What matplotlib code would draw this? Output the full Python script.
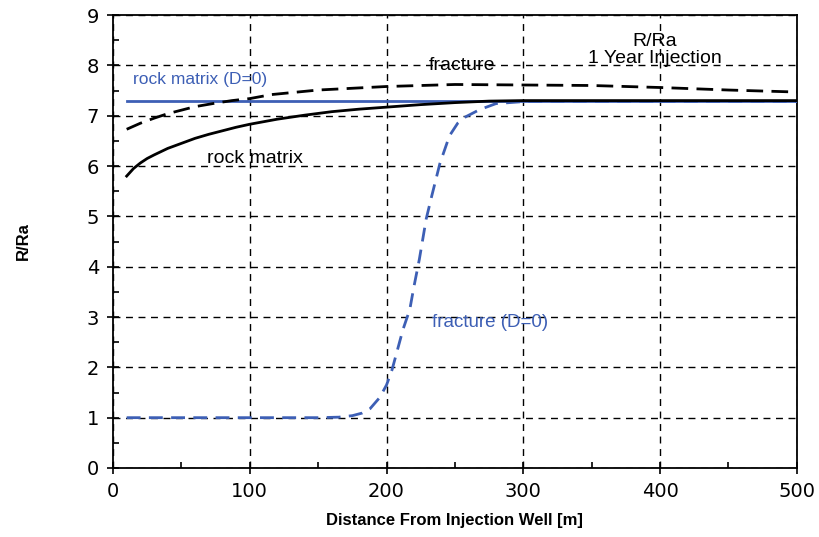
import matplotlib
matplotlib.use("Agg")
import matplotlib.pyplot as plt
from matplotlib.ticker import MultipleLocator

# Data
rock_x = [10, 15, 20, 25, 30, 40, 50, 60, 70, 80, 90, 100, 120, 140, 160, 180, 200, 225, 250, 275, 300, 350, 400, 450, 500]
rock_y = [5.80, 5.95, 6.06, 6.15, 6.22, 6.35, 6.45, 6.55, 6.63, 6.70, 6.77, 6.83, 6.93, 7.01, 7.08, 7.13, 7.17, 7.22, 7.26, 7.29, 7.30, 7.30, 7.30, 7.30, 7.30]

frac_x = [10, 20, 30, 40, 50, 60, 75, 87, 100, 116, 150, 200, 250, 300, 350, 400, 450, 500]
frac_y = [6.73, 6.85, 6.95, 7.04, 7.11, 7.18, 7.25, 7.30, 7.34, 7.42, 7.51, 7.58, 7.62, 7.61, 7.60, 7.56, 7.51, 7.47]

rock0_x = [10, 500]
rock0_y = [7.30, 7.30]

frac0_x = [10, 50, 100, 150, 165, 175, 182, 188, 195, 200, 204, 208, 212, 217, 220, 224, 229, 233, 239, 246, 252, 258, 268, 280, 300, 400, 500]
frac0_y = [1.00, 1.00, 1.00, 1.00, 1.01, 1.04, 1.09, 1.18, 1.40, 1.65, 1.95, 2.35, 2.75, 3.15, 3.60, 4.15, 4.95, 5.40, 6.05, 6.60, 6.85, 6.98, 7.12, 7.24, 7.28, 7.28, 7.28]

x_ticks = [0, 100, 200, 300, 400, 500]
y_ticks = [0, 1, 2, 3, 4, 5, 6, 7, 8, 9]

BLUE = "#3d5fb5"
FONT = ["Liberation Sans", "DejaVu Sans"]

fig = plt.figure(figsize=(8.2, 5.37), dpi=100)
ax = fig.add_axes([0.1378, 0.1285, 0.834, 0.8435])

ax.set_xlim(0, 500)
ax.set_ylim(0, 9)
ax.set_xticks(x_ticks)
ax.set_yticks(y_ticks)
ax.xaxis.set_minor_locator(MultipleLocator(50))
ax.yaxis.set_minor_locator(MultipleLocator(0.5))
ax.tick_params(which="major", direction="inout", length=8, width=1.2, labelsize=14, pad=6)
ax.tick_params(which="minor", direction="in", length=4, width=1.2)
ax.tick_params(which="both", top=False, right=False)
for s in ax.spines.values():
    s.set_linewidth(1.3)

ax.grid(True, which="major", color="black", linestyle=(0, (5, 4)), linewidth=1.0)
ax.set_axisbelow(True)

ax.plot(rock0_x, rock0_y, color=BLUE, linewidth=2.0, zorder=3)
ax.plot(frac0_x, frac0_y, color=BLUE, linewidth=2.0, linestyle=(0, (5, 3)), zorder=3)
ax.plot(rock_x, rock_y, color="black", linewidth=2.0, zorder=4)
ax.plot(frac_x, frac_y, color="black", linewidth=2.0, linestyle=(0, (6, 3)), zorder=4)

ax.text(255, 8.0, "fracture", fontsize=14, family=FONT, ha="center", va="center")
ax.text(104, 6.15, "rock matrix", fontsize=14, family=FONT, ha="center", va="center")
ax.text(64, 7.72, "rock matrix (D=0)", fontsize=12.5, family=FONT, color=BLUE, ha="center", va="center")
ax.text(233, 2.9, "fracture (D=0)", fontsize=13.5, family=FONT, color=BLUE, ha="left", va="center")
ax.text(396, 8.47, "R/Ra", fontsize=14, family=FONT, ha="center", va="center")
ax.text(396, 8.13, "1 Year Injection", fontsize=14, family=FONT, ha="center", va="center")

ax.set_xlabel("Distance From Injection Well [m]", fontsize=12, fontweight="bold", family=FONT, labelpad=9)
ax.set_ylabel("R/Ra", fontsize=12, fontweight="bold", family=FONT, labelpad=40)

fig.savefig("out.png", dpi=100)
